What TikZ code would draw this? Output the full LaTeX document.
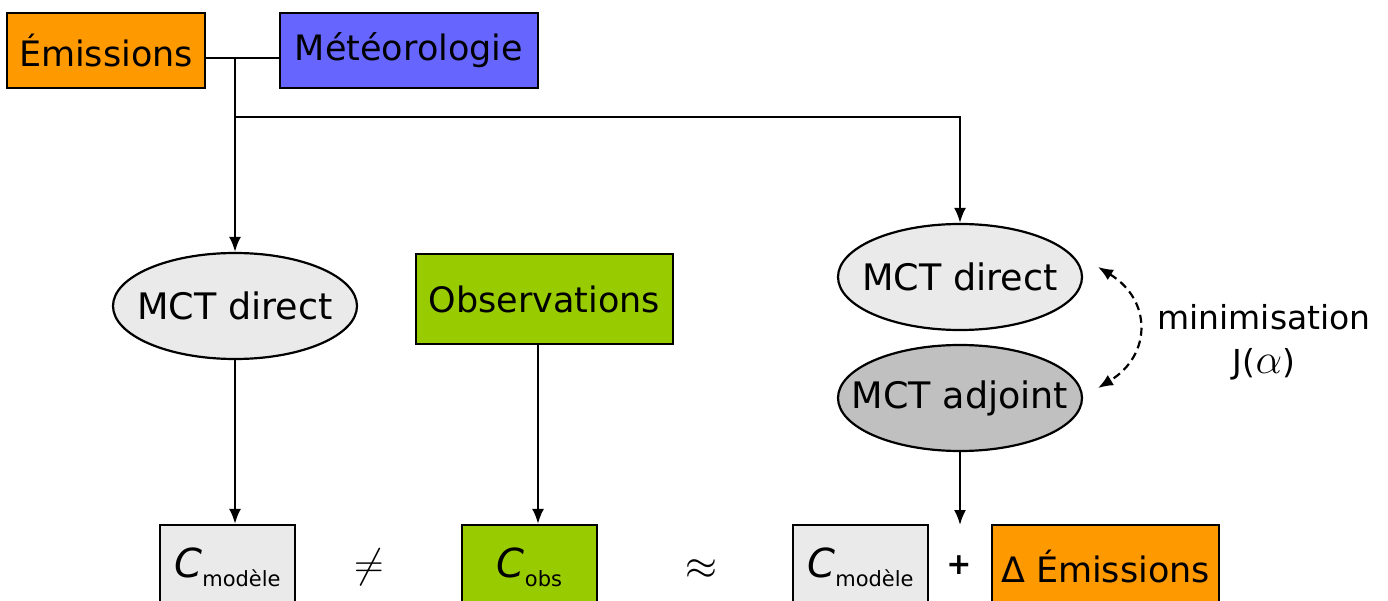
\documentclass[tikz,border=0pt]{standalone}
\usepackage{fontspec}
\setmainfont{DejaVu Sans}
\usetikzlibrary{shapes.geometric,arrows.meta}
\definecolor{orng}{HTML}{FF9900}
\definecolor{blu}{HTML}{6666FF}
\definecolor{grn}{HTML}{99CC00}
\definecolor{lgray}{HTML}{EAEAEA}
\definecolor{dgray}{HTML}{C0C0C0}
\newcommand{\bigC}{{\fontsize{40}{42}\selectfont\itshape C}}
\newcommand{\subtxt}[1]{\raisebox{-9pt}{\fontsize{21}{24}\selectfont #1}}
\begin{document}
\begin{tikzpicture}[x=1pt,y=-1pt,line width=2.2pt,
  font=\fontsize{35}{42}\selectfont,
  box/.style={draw,rectangle,inner sep=0pt,line width=2.2pt},
  ell/.style={draw,ellipse,inner sep=0pt,minimum width=244pt,minimum height=106pt,line width=2.2pt,font=\fontsize{36.5}{42}\selectfont},
  arr/.style={-{Latex[length=15pt,width=12pt]}},
  darr/.style={{Latex[length=15pt,width=12pt]}-{Latex[length=15pt,width=12pt]},dash pattern=on 8pt off 5pt}]
\useasboundingbox (0,0) rectangle (1388,601);
\clip (0,0) rectangle (1388,601);
% top boxes
\node[box,fill=orng,minimum width=198pt,minimum height=75pt] (em) at (106,50.5) {Émissions};
\node[box,fill=blu,minimum width=258pt,minimum height=75pt] (met) at (409,50.5) {Météorologie};
\coordinate (j) at (235,58);
\coordinate (k) at (235,117);
% ellipses and boxes
\node[ell,fill=lgray] (mct1) at (235,306) {\makebox[0pt]{MCT direct}};
\node[box,fill=grn,minimum width=257pt,minimum height=90pt] (obs) at (544.5,299) {Observations};
\node[ell,fill=lgray] (mct2) at (960,277) {\makebox[0pt]{MCT direct}};
\node[ell,fill=dgray] (adj) at (960,398) {\makebox[0pt]{MCT adjoint}};
\node[align=center,font=\fontsize{33}{44}\selectfont] (mini) at (1264,342) {minimisation\\J(\scalebox{1.7}{$\alpha$})};
% bottom row
\node[box,fill=lgray,minimum width=135pt,minimum height=84pt] (cm1) at (227.5,567) {\bigC\subtxt{modèle}};
\node (neq) at (369,567) {\scalebox{1.65}{$\neq$}};
\node[box,fill=grn,minimum width=135pt,minimum height=84pt] (cobs) at (529.5,567) {\bigC\subtxt{obs}};
\node (approx) at (701,570) {\scalebox{1.65}{$\approx$}};
\node[box,fill=lgray,minimum width=135pt,minimum height=84pt] (cm2) at (860.5,567) {\bigC\subtxt{modèle}};
\node (plus) at (959,565) {\fontsize{30}{32}\selectfont\bfseries +};
\node[box,fill=orng,minimum width=227pt,minimum height=84pt] (dem) at (1105.5,567) {Δ Émissions};
\coordinate (pt) at (960,525);
\coordinate (d1) at (1098,267);
\coordinate (d2) at (1098,388);
% connectors
\draw (em.east|-j) -- (met.west|-j);
\draw[arr] (j) -- (mct1.north);
\draw[arr] (k) -| (mct2.north);
\draw[arr] (mct1.south) -- (mct1.south|-cm1.north);
\draw[arr] ([xshift=-6.5pt]obs.south) -- ([xshift=-6.5pt]obs.south|-cobs.north);
\draw[arr] (adj.south) -- (pt);
\draw[darr] (d1) .. controls (1152,300) and (1152,355) .. (d2);
\end{tikzpicture}
\end{document}
